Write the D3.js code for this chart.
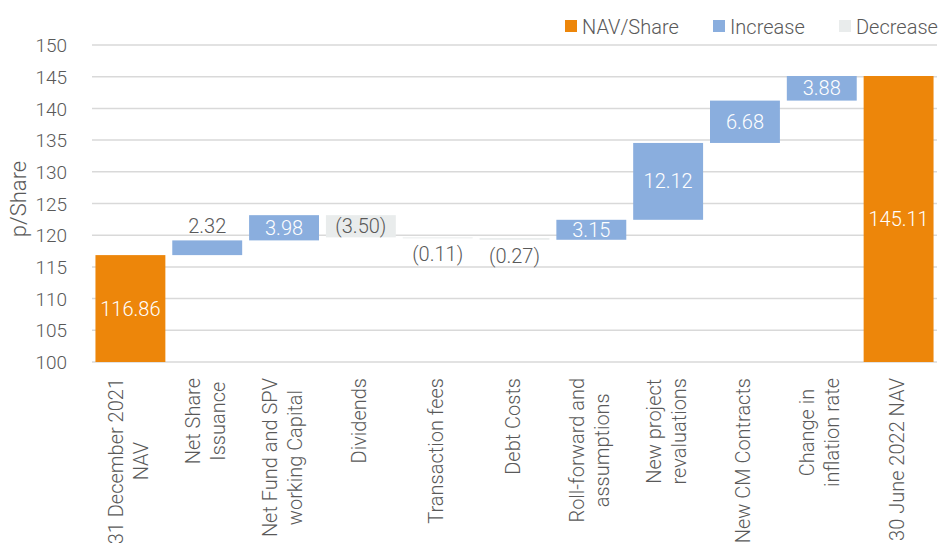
<!DOCTYPE html>
<html>
<head>
<meta charset="utf-8">
<script src="https://cdn.jsdelivr.net/npm/d3@7"></script>
<style>
  html, body { margin: 0; padding: 0; background: #fff; }
  svg { display: block; font-family: Roboto, "Noto Sans", sans-serif; font-weight: 300; }
</style>
</head>
<body>
<svg id="chart" width="944" height="543"></svg>
<script>
const categories = [
  ["31 December 2021", "NAV"],
  ["Net Share", "Issuance"],
  ["Net Fund and SPV", "working Capital"],
  ["Dividends"],
  ["Transaction fees"],
  ["Debt Costs"],
  ["Roll-forward and", "assumptions"],
  ["New project", "revaluations"],
  ["New CM Contracts"],
  ["Change in", "inflation rate"],
  ["30 June 2022 NAV"]
];
const values = [116.86, 2.32, 3.98, -3.50, -0.11, -0.27, 3.15, 12.12, 6.68, 3.88, 145.11];
const isTotal = [true, false, false, false, false, false, false, false, false, false, true];
const yTicks = [100, 105, 110, 115, 120, 125, 130, 135, 140, 145, 150];
const legendItems = ["NAV/Share", "Increase", "Decrease"];
const yTitle = "p/Share";

const colors = { total: "#ED860A", inc: "#8AAEDE", dec: "#E9ECEC" };
const textGray = "#595959";

const svg = d3.select("#chart");
const x0 = 92, x1 = 937, yTop = 45, yBot = 362;

const x = d3.scaleBand().domain(d3.range(categories.length)).range([x0, x1]).paddingInner(0.09).paddingOuter(0.045);
const y = d3.scaleLinear().domain([100, 150]).range([yBot, yTop]);

// build waterfall rows
let running = 0;
const rows = values.map((v, i) => {
  let lo, hi, type;
  if (isTotal[i]) { lo = 100; hi = v; running = v; type = "total"; }
  else {
    const start = running; running = +(running + v).toFixed(2);
    lo = Math.min(start, running); hi = Math.max(start, running);
    type = v >= 0 ? "inc" : "dec";
  }
  return { i, v, lo, hi, type };
});

// gridlines
svg.append("g").selectAll("line").data(yTicks).join("line")
  .attr("x1", x0).attr("x2", x1)
  .attr("y1", d => y(d)).attr("y2", d => y(d))
  .attr("stroke", "#D9D9D9").attr("stroke-width", 1.5);

// y tick labels
const yAxis = d3.axisLeft(y).tickValues(yTicks).tickSize(0).tickPadding(0);
const gy = svg.append("g").attr("transform", `translate(67,0)`).call(yAxis);
gy.select(".domain").remove();
gy.selectAll("text").attr("font-size", 19).attr("fill", textGray)
  .attr("font-family", "Roboto").attr("font-weight", 300).attr("dy", "0.35em");

// y title
svg.append("text").attr("transform", `translate(26,199) rotate(-90)`)
  .attr("text-anchor", "middle").attr("font-size", 22).attr("fill", textGray).text(yTitle);

// bars
svg.append("g").selectAll("rect").data(rows).join("rect")
  .attr("x", d => x(d.i)).attr("width", x.bandwidth())
  .attr("y", d => y(d.hi)).attr("height", d => Math.max(1, y(d.lo) - y(d.hi)))
  .attr("fill", d => colors[d.type]);

// data labels
const fmt = v => v < 0 ? `(${d3.format(".2f")(-v)})` : d3.format(".2f")(v);
svg.append("g").selectAll("text").data(rows).join("text")
  .attr("x", d => x(d.i) + x.bandwidth() / 2)
  .attr("y", d => {
    const h = y(d.lo) - y(d.hi);
    if (h >= 18) return (y(d.lo) + y(d.hi)) / 2;
    return d.type === "dec" ? y(d.lo) + 16 : y(d.hi) - 14;
  })
  .attr("dy", "0.35em")
  .attr("text-anchor", "middle").attr("font-size", 20)
  .attr("fill", d => {
    const h = y(d.lo) - y(d.hi);
    if (h >= 18 && d.type !== "dec") return "#fff";
    return textGray;
  })
  .text(d => fmt(d.v));

// x labels
const lineH = 25;
const xl = svg.append("g");
categories.forEach((lines, i) => {
  const g = xl.append("g");
  const t = g.append("text").attr("font-size", 20).attr("fill", textGray).attr("text-anchor", "middle");
  lines.forEach((ln, k) => t.append("tspan").attr("x", 0).attr("y", k * lineH).text(ln));
  let maxLen = 0;
  t.selectAll("tspan").each(function () { maxLen = Math.max(maxLen, this.getComputedTextLength()); });
  const n = lines.length;
  const cx = x(i) + x.bandwidth() / 2;
  const blockMid = ((n - 1) * lineH - 14 + 4) / 2;
  g.attr("transform", `translate(${cx - blockMid},${378 + maxLen / 2}) rotate(-90)`);
});

// legend
const lx = [565, 713, 839];
const lg = svg.append("g");
legendItems.forEach((name, i) => {
  const key = ["total", "inc", "dec"][i];
  lg.append("rect").attr("x", lx[i]).attr("y", 20).attr("width", 12).attr("height", 12).attr("fill", colors[key]);
  lg.append("text").attr("x", lx[i] + 17).attr("y", 34).attr("font-size", 20).attr("fill", textGray).text(name);
});
</script>
</body>
</html>
